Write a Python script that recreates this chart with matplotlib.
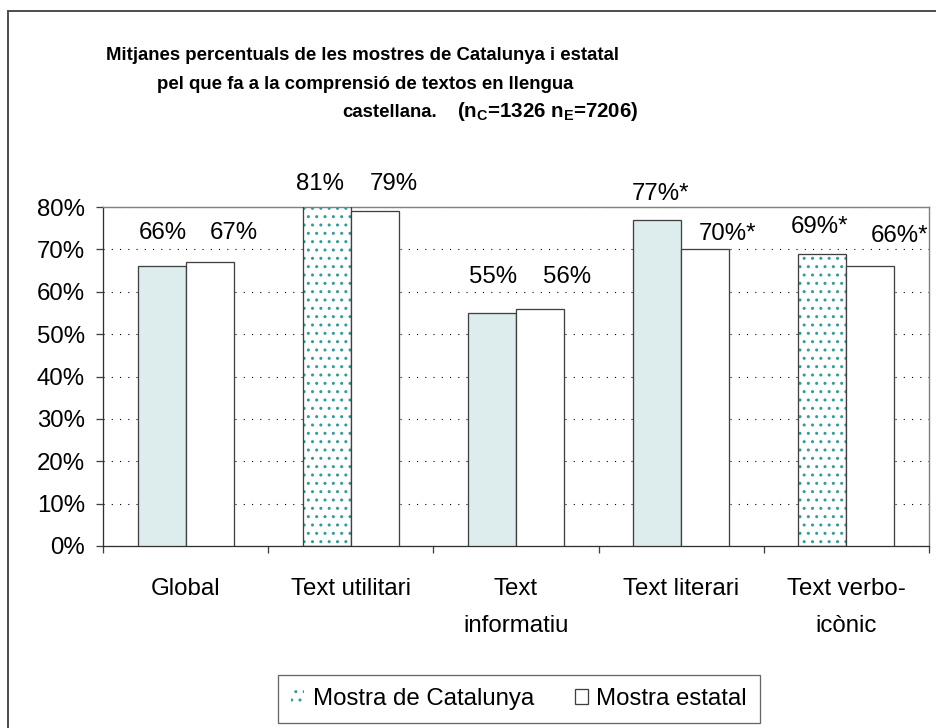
import matplotlib
matplotlib.use('Agg')
import matplotlib.pyplot as plt
from matplotlib.patches import Patch, Rectangle
import numpy as np

# ---------------- data ----------------
categories = ['Global', 'Text utilitari', 'Text\ninformatiu', 'Text literari', 'Text verbo-\nicònic']
catalunya = [66, 81, 55, 77, 69]
estatal = [67, 79, 56, 70, 66]
cat_labels = ['66%', '81%', '55%', '77%*', '69%*']
est_labels = ['67%', '79%', '56%', '70%*', '66%*']
cat_patterned = [False, True, False, False, True]
yticks = [0, 10, 20, 30, 40, 50, 60, 70, 80]
ytick_labels = ['0%', '10%', '20%', '30%', '40%', '50%', '60%', '70%', '80%']
legend_labels = ['Mostra de Catalunya', 'Mostra estatal']
title_line1 = 'Mitjanes percentuals de les mostres de Catalunya i estatal'
title_line2 = 'pel que fa a la comprensió de textos en llengua'
title_line3 = 'castellana.'
title_note = r'(n$_{\mathbf{C}}$=1326 n$_{\mathbf{E}}$=7206)'

# label offsets (pixels) relative to bar top centre: (dx, dy up)
cat_offsets = [(1, 27), (-7, 13), (1.5, 30), (3, 20), (-3, 21)]
est_offsets = [(24, 23), (19, 21), (27.5, 26), (22, 9), (29, 24)]

# ---------------- style ----------------
W, H = 936, 728
DPI = 100
P = 72.0 / DPI          # points per pixel

plt.rcParams['font.family'] = ['Liberation Sans', 'DejaVu Sans']
plt.rcParams['mathtext.fontset'] = 'custom'
plt.rcParams['mathtext.rm'] = 'Liberation Sans:bold'
plt.rcParams['mathtext.bf'] = 'Liberation Sans:bold'
plt.rcParams['mathtext.it'] = 'Liberation Sans:bold'
plt.rcParams['hatch.linewidth'] = 1.0

FS = 24 * P
TITLE_FS = 18.7 * P
NOTE_FS = 20.5 * P
LIGHT = '#DDEDED'
TEAL = '#2F9C9C'
EDGE = '#404040'

fig = plt.figure(figsize=(W / DPI, H / DPI), dpi=DPI)
fig.patch.set_facecolor('white')

left, right, top, bottom = 103, 929, 207, 546
ax = fig.add_axes([left / W, 1 - bottom / H, (right - left) / W, (bottom - top) / H])

x = np.arange(len(categories))
bw = 0.29

# patterned fill layer
for xi, v, p in zip(x, catalunya, cat_patterned):
    if p:
        ax.bar(xi - bw / 2, v, bw, color='white', edgecolor=TEAL, linewidth=0,
               hatch='..', zorder=2)
cat_faces = ['none' if p else LIGHT for p in cat_patterned]
ax.bar(x - bw / 2, catalunya, bw, color=cat_faces,
       edgecolor=EDGE, linewidth=1.3 * P, zorder=3)
ax.bar(x + bw / 2, estatal, bw, color='white', edgecolor=EDGE, linewidth=1.3 * P, zorder=3)

for xi, v, lab, (dx, dy) in zip(x, catalunya, cat_labels, cat_offsets):
    ax.annotate(lab, (xi - bw / 2, v), xytext=(dx, dy), textcoords='offset pixels',
                ha='center', va='baseline', fontsize=FS, color='black', zorder=5,
                annotation_clip=False)
for xi, v, lab, (dx, dy) in zip(x, estatal, est_labels, est_offsets):
    ax.annotate(lab, (xi + bw / 2, v), xytext=(dx, dy), textcoords='offset pixels',
                ha='center', va='baseline', fontsize=FS, color='black', zorder=5,
                annotation_clip=False)

ax.set_xlim(-0.5, len(categories) - 0.5)
ax.set_ylim(0, 80)
ax.set_yticks(yticks)
ax.set_yticklabels(ytick_labels, fontsize=FS)
ax.set_xticks(np.arange(-0.5, len(categories), 1.0))
ax.set_xticklabels([''] * (len(categories) + 1))
ax.set_xticks(x, minor=True)
ax.set_xticklabels(categories, minor=True, fontsize=FS, linespacing=1.9)
ax.tick_params(axis='x', which='major', direction='out', length=7 * P, width=1.3 * P, color=EDGE)
ax.tick_params(axis='x', which='minor', length=0, pad=32 * P)
ax.tick_params(axis='y', direction='out', length=7 * P, width=1.3 * P, color=EDGE, pad=11 * P)

ax.set_axisbelow(True)
ax.yaxis.grid(True, color='black', linestyle=(0, (1, 6.5)), linewidth=1.1 * P)
ax.xaxis.grid(False)

for side in ('left', 'bottom'):
    ax.spines[side].set_color('#303030')
    ax.spines[side].set_linewidth(1.3 * P)
for side in ('top', 'right'):
    ax.spines[side].set_color('#808080')
    ax.spines[side].set_linewidth(1.4 * P)
ax.set_facecolor('white')

# title
fig.text(362.5 / W, 1 - 60 / H, title_line1, ha='center', va='baseline',
         fontsize=TITLE_FS, fontweight='bold')
fig.text(365 / W, 1 - 89 / H, title_line2, ha='center', va='baseline',
         fontsize=TITLE_FS, fontweight='bold')
fig.text(437 / W, 1 - 117 / H, title_line3, ha='right', va='baseline',
         fontsize=TITLE_FS, fontweight='bold')
fig.text(457 / W, 1 - 117 / H, title_note, ha='left', va='baseline',
         fontsize=NOTE_FS, fontweight='bold')

# legend
handles = [Patch(facecolor='white', edgecolor=TEAL, linewidth=0, hatch='..'),
           Patch(facecolor='white', edgecolor=EDGE, linewidth=1.3 * P)]
leg = fig.legend(handles, legend_labels, loc='center', ncol=2,
                 bbox_to_anchor=(519 / W, 1 - 699 / H), fontsize=FS,
                 frameon=True, fancybox=False, shadow=False,
                 handlelength=0.55, handleheight=0.55, handletextpad=0.35,
                 columnspacing=1.7, borderpad=0.55, borderaxespad=0)
leg.get_frame().set_edgecolor(EDGE)
leg.get_frame().set_linewidth(1.3 * P)

# outer chart border
fig.add_artist(Rectangle((8 / W, -0.1), 2, 1 - 11 / H + 0.1, transform=fig.transFigure,
                         fill=False, edgecolor='#505050', linewidth=2 * P))

fig.savefig('out.png', dpi=DPI, facecolor='white')
